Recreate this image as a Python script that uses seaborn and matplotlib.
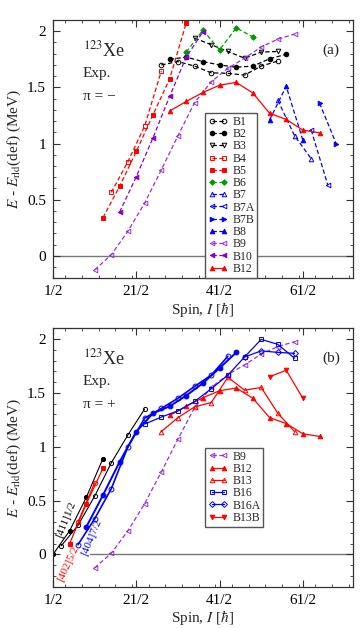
import matplotlib
matplotlib.use("Agg")
import matplotlib.pyplot as plt
import seaborn as sns
from matplotlib.ticker import MultipleLocator, FixedLocator

# ---- panel (a): negative parity bands ----
spin_b1 = [13.5, 15.5, 17.5, 19.5, 21.5, 23.5, 25.5, 27.5]
e_b1 = [1.70, 1.73, 1.69, 1.63, 1.625, 1.61, 1.69, 1.735]
spin_b2 = [14.5, 16.5, 18.5, 20.5, 22.5, 24.5, 26.5, 28.5]
e_b2 = [1.75, 1.77, 1.73, 1.70, 1.68, 1.69, 1.755, 1.795]
spin_b3 = [17.5, 19.5, 21.5, 23.5, 25.5, 27.5]
e_b3 = [1.94, 1.88, 1.82, 1.76, 1.815, 1.82]
spin_b4 = [7.5, 9.5, 11.5, 13.5]
e_b4 = [0.565, 0.84, 1.155, 1.645]
spin_b5 = [6.5, 8.5, 10.5, 12.5, 14.5, 16.5]
e_b5 = [0.34, 0.62, 0.93, 1.255, 1.575, 2.075]
spin_b6 = [16.5, 18.5, 20.5, 22.5, 24.5]
e_b6 = [1.815, 2.01, 1.835, 2.03, 1.95]
spin_b7 = [27.5, 29.5, 31.5]
e_b7 = [1.385, 1.07, 0.865]
spin_b7a = [31.5, 33.5]
e_b7a = [1.12, 0.63]
spin_b7b = [32.5, 34.5]
e_b7b = [1.36, 1.0]
spin_b8 = [26.5, 28.5, 30.5]
e_b8 = [1.21, 1.51, 1.03]
spin_b9 = [5.5, 7.5, 9.5, 11.5, 13.5, 15.5, 17.5, 19.5, 21.5, 23.5, 25.5, 27.5, 29.5]
e_b9 = [-0.125, 0.01, 0.22, 0.47, 0.765, 1.07, 1.365, 1.55, 1.67, 1.76, 1.86, 1.93, 1.975]
spin_b10 = [8.5, 10.5, 12.5, 14.5, 16.5, 18.5]
e_b10 = [0.39, 0.705, 1.05, 1.42, 1.77, 1.995]
spin_b12 = [14.5, 16.5, 18.5, 20.5, 22.5, 24.5, 26.5, 28.5, 30.5, 32.5]
e_b12 = [1.29, 1.375, 1.455, 1.52, 1.545, 1.45, 1.27, 1.215, 1.12, 1.095]

# ---- panel (b): positive parity bands ----
spin_k1f = [0.5, 2.5, 4.5, 6.5]
e_k1f = [0.0, 0.22, 0.53, 0.89]
spin_k1o = [1.5, 3.5, 5.5, 7.5, 9.5, 11.5]
e_k1o = [0.08, 0.27, 0.54, 0.85, 1.11, 1.35]
spin_r5f = [2.5, 4.5, 6.5]
e_r5f = [0.10, 0.47, 0.80]
spin_r5o = [3.5, 5.5]
e_r5o = [0.30, 0.665]
spin_g7f = [4.5, 6.5, 8.5, 10.5, 12.5, 14.5, 16.5, 18.5, 20.5, 22.5]
e_g7f = [0.255, 0.55, 0.86, 1.14, 1.31, 1.375, 1.475, 1.59, 1.73, 1.875]
spin_g7o = [3.5, 5.5, 7.5, 9.5, 11.5, 13.5, 15.5, 17.5, 19.5, 21.5]
e_g7o = [0.09, 0.33, 0.61, 1.0, 1.265, 1.355, 1.45, 1.56, 1.665, 1.84]
spin_b13 = [13.5, 15.5, 17.5, 19.5, 21.5, 23.5, 25.5, 27.5, 29.5]
e_b13 = [1.14, 1.27, 1.37, 1.41, 1.645, 1.525, 1.55, 1.31, 1.14]
spin_b16 = [11.5, 13.5, 15.5, 17.5, 19.5, 21.5, 23.5, 25.5, 27.5, 29.5]
e_b16 = [1.21, 1.275, 1.333, 1.42, 1.538, 1.665, 1.833, 1.997, 1.95, 1.822]
spin_b16a = [23.5, 25.5, 27.5, 29.5]
e_b16a = [1.833, 1.89, 1.876, 1.867]
spin_b13b = [26.5, 28.5, 30.5]
e_b13b = [1.65, 1.71, 1.45]

xtick_pos = [0.5, 10.5, 20.5, 30.5]
xtick_labels = ["1/2", "21/2", "41/2", "61/2"]
ytick_pos = [0, 0.5, 1, 1.5, 2]
ytick_labels = ["0", "0.5", "1", "1.5", "2"]

RED = "#ff0000"
BLUE = "#0000ff"
PURPLE = "#9a32cd"
DPURPLE = "#8800cc"
GREEN = "#009a00"
DASH = (0, (3.5, 2))

sns.set_theme(style="ticks")
plt.rcParams["font.family"] = ["Liberation Serif", "DejaVu Serif"]
plt.rcParams["mathtext.fontset"] = "stix"


def band(ax, x, y, color, marker, filled, ls="-", label=None, lw=0.9, ms=3.3):
    sns.lineplot(x=x, y=y, ax=ax, color=color, marker=marker, linestyle=ls,
                 linewidth=lw, markersize=ms, markeredgecolor=color,
                 markerfacecolor=color if filled else "none",
                 markeredgewidth=0.7, estimator=None, sort=False, label=label)


def style_axes(ax, ylo):
    ax.set_xlim(0.5, 36.5)
    ax.set_ylim(ylo, 2.1)
    ax.xaxis.set_major_locator(FixedLocator(xtick_pos))
    ax.set_xticklabels(xtick_labels)
    ax.xaxis.set_minor_locator(MultipleLocator(2))
    ax.yaxis.set_major_locator(FixedLocator(ytick_pos))
    ax.set_yticklabels(ytick_labels)
    ax.yaxis.set_minor_locator(MultipleLocator(0.1))
    ax.tick_params(which="both", direction="in", top=True, right=True,
                   colors="#333333", labelcolor="black", labelsize=11)
    ax.tick_params(which="major", length=5, width=0.8, pad=5)
    ax.tick_params(which="minor", length=2.5, width=0.6)
    for s in ax.spines.values():
        s.set_color("#333333")
        s.set_linewidth(0.9)
    ax.set_xlabel(r"Spin, $I$ [$\hbar$]", fontsize=11, labelpad=1)
    ax.set_ylabel(r"$E$ - $E_{\mathrm{rld}}$(def) (MeV)", fontsize=11, labelpad=3)


def add_legend(ax, anchor):
    ax.legend(loc="upper left", bbox_to_anchor=anchor, fontsize=8.5,
              numpoints=2, handlelength=1.7, handletextpad=0.35,
              labelspacing=0.02, borderpad=0.25, borderaxespad=0,
              frameon=True, fancybox=False, edgecolor="#555555", framealpha=1)


fig = plt.figure(figsize=(3.63, 6.28), dpi=100)
ax1 = fig.add_axes([0.146, 0.5568, 0.826, 0.4113])
ax2 = fig.add_axes([0.146, 0.0658, 0.826, 0.4115])

# panel (a)
ax1.axhline(0, color="#777777", lw=1.0, zorder=0)
band(ax1, spin_b1, e_b1, "black", "o", False, DASH, "B1")
band(ax1, spin_b2, e_b2, "black", "o", True, DASH, "B2")
band(ax1, spin_b3, e_b3, "black", "v", False, DASH, "B3")
band(ax1, spin_b4, e_b4, RED, "s", False, DASH, "B4")
band(ax1, spin_b5, e_b5, RED, "s", True, DASH, "B5")
band(ax1, spin_b6, e_b6, GREEN, "D", True, DASH, "B6", ms=2.8)
band(ax1, spin_b7, e_b7, BLUE, "^", False, DASH, "B7")
band(ax1, spin_b7a, e_b7a, BLUE, "<", False, DASH, "B7A")
band(ax1, spin_b7b, e_b7b, BLUE, ">", True, DASH, "B7B")
band(ax1, spin_b8, e_b8, BLUE, "^", True, DASH, "B8")
band(ax1, spin_b9, e_b9, PURPLE, "<", False, DASH, "B9")
band(ax1, spin_b10, e_b10, DPURPLE, "<", True, DASH, "B10")
band(ax1, spin_b12, e_b12, RED, "^", True, "-", "B12")
style_axes(ax1, -0.2)
add_legend(ax1, (0.507, 0.64))
ax1.text(0.1, 0.86, r"$^{123}$Xe", transform=ax1.transAxes, fontsize=13)
ax1.text(0.1, 0.78, "Exp.", transform=ax1.transAxes, fontsize=11)
ax1.text(0.1, 0.69, "π = −", transform=ax1.transAxes, fontsize=11)
ax1.text(0.9, 0.87, "(a)", transform=ax1.transAxes, fontsize=11)

# panel (b)
ax2.axhline(0, xmin=0.125, color="#777777", lw=1.0, zorder=0)
band(ax2, spin_k1f, e_k1f, "black", "o", True, "-", ms=3.0, lw=0.8)
band(ax2, spin_k1o, e_k1o, "black", "o", False, "-", ms=3.0, lw=0.8)
band(ax2, spin_r5f, e_r5f, RED, "s", True, "-", ms=3.5)
band(ax2, spin_r5o, e_r5o, RED, "o", False, "-", ms=3.2)
band(ax2, spin_g7f, e_g7f, BLUE, "o", True, "-", lw=1.4, ms=3.5)
band(ax2, spin_g7o, e_g7o, BLUE, "o", False, "-", lw=1.2, ms=3.5)
band(ax2, spin_b9, e_b9, PURPLE, "<", False, DASH, "B9")
band(ax2, spin_b12, e_b12, RED, "^", True, "-", "B12")
band(ax2, spin_b13, e_b13, RED, "^", False, "-", "B13")
band(ax2, spin_b16, e_b16, BLUE, "s", False, "-", "B16")
band(ax2, spin_b16a, e_b16a, BLUE, "D", False, "-", "B16A", ms=3.0)
band(ax2, spin_b13b, e_b13b, RED, "v", True, "-", "B13B")
style_axes(ax2, -0.3)
add_legend(ax2, (0.507, 0.538))
ax2.text(0.1, 0.86, r"$^{123}$Xe", transform=ax2.transAxes, fontsize=13)
ax2.text(0.1, 0.78, "Exp.", transform=ax2.transAxes, fontsize=11)
ax2.text(0.1, 0.69, "π = +", transform=ax2.transAxes, fontsize=11)
ax2.text(0.9, 0.87, "(b)", transform=ax2.transAxes, fontsize=11)
ax2.text(0.045, 0.26, "[411]1/2", transform=ax2.transAxes, fontsize=8,
         rotation=68, color="black", ha="center", va="center")
ax2.text(0.05, 0.09, "[402]5/2", transform=ax2.transAxes, fontsize=8,
         rotation=65, color=RED, ha="center", va="center")
ax2.text(0.127, 0.19, "[404]7/2", transform=ax2.transAxes, fontsize=8,
         rotation=67, color=BLUE, ha="center", va="center")

fig.savefig("out.png", dpi=100)
